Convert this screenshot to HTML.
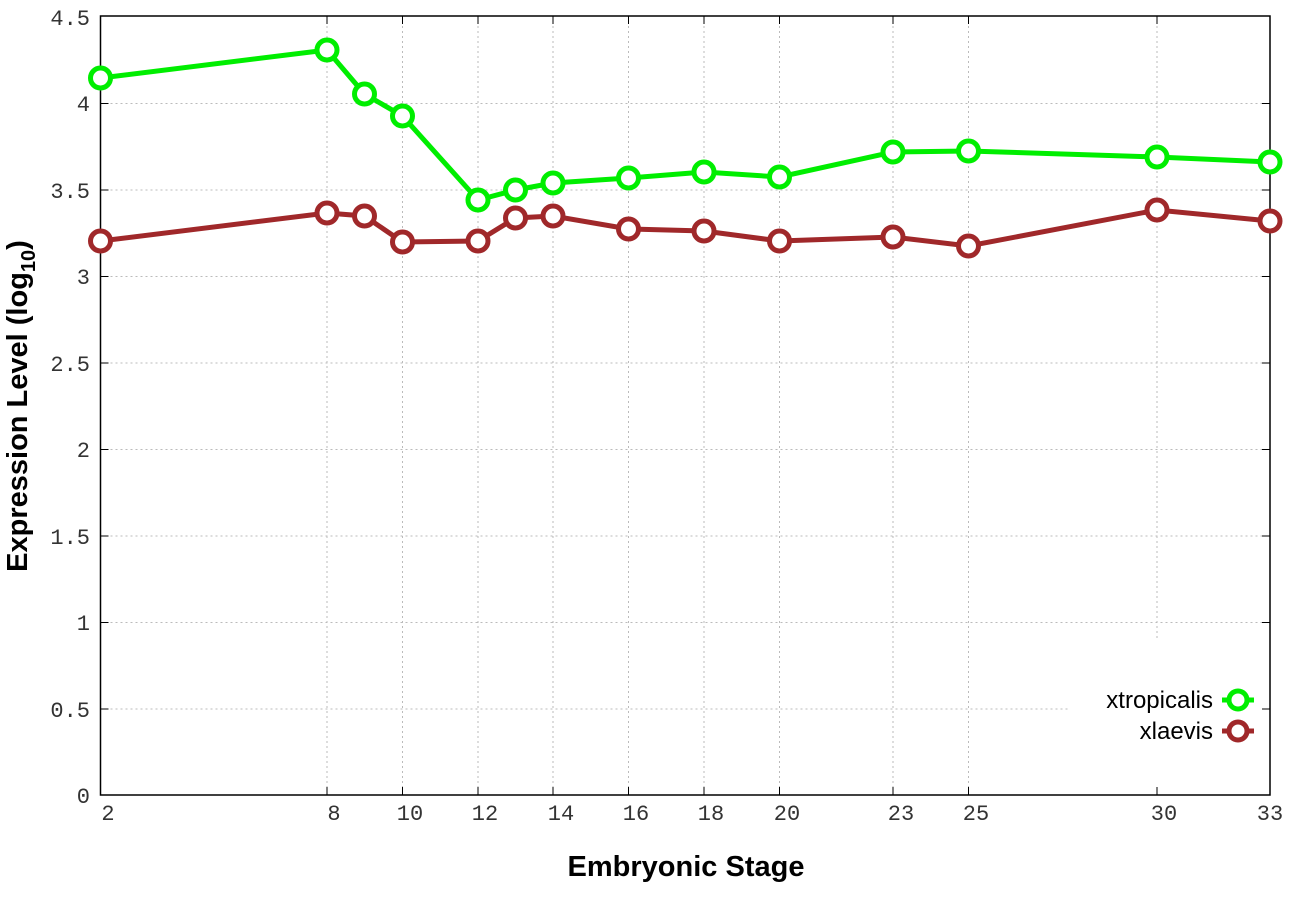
<!DOCTYPE html>
<html><head><meta charset="utf-8"><style>body{margin:0;background:#fff}</style></head><body>
<svg width="1296" height="907" xmlns="http://www.w3.org/2000/svg">
<g stroke="#bbb" stroke-width="1" stroke-dasharray="2,3">
<line x1="100.5" x2="1270" y1="103.5" y2="103.5"/><line x1="100.5" x2="1270" y1="190" y2="190"/>
<line x1="100.5" x2="1270" y1="276.5" y2="276.5"/><line x1="100.5" x2="1270" y1="363" y2="363"/>
<line x1="100.5" x2="1270" y1="449.5" y2="449.5"/><line x1="100.5" x2="1270" y1="536" y2="536"/>
<line x1="100.5" x2="1270" y1="622.5" y2="622.5"/><line x1="100.5" x2="1070" y1="709" y2="709"/>
<line x1="327" x2="327" y1="16" y2="795"/>
<line x1="402.5" x2="402.5" y1="16" y2="795"/><line x1="478" x2="478" y1="16" y2="795"/>
<line x1="553" x2="553" y1="16" y2="795"/>
<line x1="628.5" x2="628.5" y1="16" y2="795"/><line x1="704" x2="704" y1="16" y2="795"/>
<line x1="779.5" x2="779.5" y1="16" y2="795"/><line x1="893" x2="893" y1="16" y2="795"/>
<line x1="968.5" x2="968.5" y1="16" y2="795"/><line x1="1157" x2="1157" y1="16" y2="640"/>
</g>
<g stroke="#000" stroke-width="1">
<path d="M100.5 103.5h8M100.5 190h8M100.5 276.5h8M100.5 363h8M100.5 449.5h8M100.5 536h8M100.5 622.5h8M100.5 709h8"/>
<path d="M1270 103.5h-8M1270 190h-8M1270 276.5h-8M1270 363h-8M1270 449.5h-8M1270 536h-8M1270 622.5h-8M1270 709h-8"/>
<path d="M327 795v-8M402.5 795v-8M478 795v-8M553 795v-8M628.5 795v-8M704 795v-8M779.5 795v-8M893 795v-8M968.5 795v-8M1157 795v-8"/>
<path d="M327 16v8M402.5 16v8M478 16v8M553 16v8M628.5 16v8M704 16v8M779.5 16v8M893 16v8M968.5 16v8M1157 16v8"/>
</g>
<rect x="100.5" y="16" width="1169.5" height="779" fill="none" stroke="#000" stroke-width="1.5"/>
<g font-family="Liberation Mono, monospace" font-size="22" fill="#333" text-anchor="end">
<text x="90" y="25">4.5</text><text x="90" y="111">4</text><text x="90" y="198">3.5</text>
<text x="90" y="284">3</text><text x="90" y="371">2.5</text><text x="90" y="457">2</text>
<text x="90" y="544">1.5</text><text x="90" y="630">1</text><text x="90" y="717">0.5</text><text x="90" y="803">0</text>
</g>
<g font-family="Liberation Mono, monospace" font-size="22" fill="#333" text-anchor="middle">
<text x="108" y="820">2</text><text x="334" y="820">8</text>
<text x="410" y="820">10</text><text x="485" y="820">12</text>
<text x="561" y="820">14</text><text x="636" y="820">16</text><text x="711" y="820">18</text>
<text x="787" y="820">20</text><text x="901" y="820">23</text><text x="976" y="820">25</text>
<text x="1164" y="820">30</text><text x="1270" y="820">33</text>
</g>
<text x="686" y="876" font-family="Liberation Sans, sans-serif" font-weight="bold" font-size="29" text-anchor="middle">Embryonic Stage</text>
<text transform="translate(27,406) rotate(-90)" font-family="Liberation Sans, sans-serif" font-weight="bold" font-size="29" text-anchor="middle">Expression Level (log<tspan font-size="20" dy="8">10</tspan><tspan dy="-8">)</tspan></text>
<g fill="none" stroke="#00ee00" stroke-width="5">
<polyline points="100.5,78 327,50 364.5,94 402.5,116 478,200 515.5,190 553,183 628.5,178 704,172 779.5,177 893,152 968.5,151 1157,157 1270,162"/>
<g fill="#fff"><circle cx="100.5" cy="78" r="10"/><circle cx="327" cy="50" r="10"/><circle cx="364.5" cy="94" r="10"/><circle cx="402.5" cy="116" r="10"/><circle cx="478" cy="200" r="10"/><circle cx="515.5" cy="190" r="10"/><circle cx="553" cy="183" r="10"/><circle cx="628.5" cy="178" r="10"/><circle cx="704" cy="172" r="10"/><circle cx="779.5" cy="177" r="10"/><circle cx="893" cy="152" r="10"/><circle cx="968.5" cy="151" r="10"/><circle cx="1157" cy="157" r="10"/><circle cx="1270" cy="162" r="10"/></g>
</g>
<g fill="none" stroke="#a0282a" stroke-width="5">
<polyline points="100.5,241 327,213 364.5,216 402.5,242 478,241 515.5,218 553,216 628.5,229 704,231 779.5,241 893,237 968.5,246 1157,210 1270,221"/>
<g fill="#fff"><circle cx="100.5" cy="241" r="10"/><circle cx="327" cy="213" r="10"/><circle cx="364.5" cy="216" r="10"/><circle cx="402.5" cy="242" r="10"/><circle cx="478" cy="241" r="10"/><circle cx="515.5" cy="218" r="10"/><circle cx="553" cy="216" r="10"/><circle cx="628.5" cy="229" r="10"/><circle cx="704" cy="231" r="10"/><circle cx="779.5" cy="241" r="10"/><circle cx="893" cy="237" r="10"/><circle cx="968.5" cy="246" r="10"/><circle cx="1157" cy="210" r="10"/><circle cx="1270" cy="221" r="10"/></g>
</g>
<g font-family="Liberation Sans, sans-serif" font-size="24" fill="#000" text-anchor="end">
<text x="1213" y="708">xtropicalis</text><text x="1213" y="739">xlaevis</text>
</g>
<g fill="none" stroke-width="5">
<line x1="1222" x2="1254" y1="700" y2="700" stroke="#00ee00"/><circle cx="1238" cy="700" r="9" stroke="#00ee00" fill="#fff"/>
<line x1="1222" x2="1254" y1="731" y2="731" stroke="#a0282a"/><circle cx="1238" cy="731" r="9" stroke="#a0282a" fill="#fff"/>
</g>
</svg>
</body></html>
